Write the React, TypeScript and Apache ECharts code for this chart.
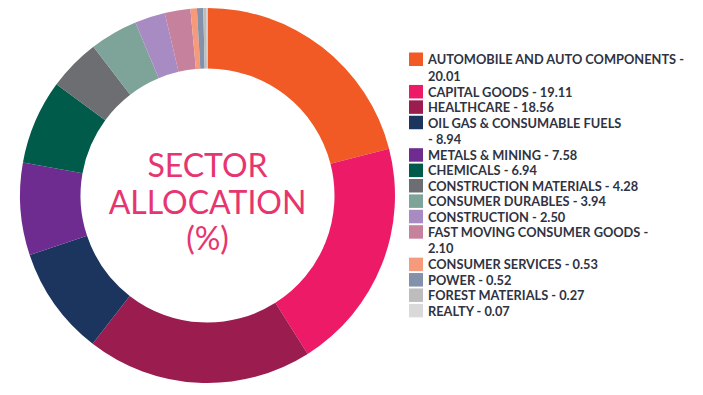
import React, { useEffect, useRef } from 'react';
import * as echarts from 'echarts';

const sectors = [
  'AUTOMOBILE AND AUTO COMPONENTS',
  'CAPITAL GOODS',
  'HEALTHCARE',
  'OIL GAS & CONSUMABLE FUELS',
  'METALS & MINING',
  'CHEMICALS',
  'CONSTRUCTION MATERIALS',
  'CONSUMER DURABLES',
  'CONSTRUCTION',
  'FAST MOVING CONSUMER GOODS',
  'CONSUMER SERVICES',
  'POWER',
  'FOREST MATERIALS',
  'REALTY',
];
const allocation = [20.01, 19.11, 18.56, 8.94, 7.58, 6.94, 4.28, 3.94, 2.5, 2.1, 0.53, 0.52, 0.27, 0.07];

// long legend entries that break onto a second line, and where
const legendBreaks: Record<string, 'afterDash' | 'beforeDash'> = {
  'AUTOMOBILE AND AUTO COMPONENTS': 'afterDash',
  'OIL GAS & CONSUMABLE FUELS': 'beforeDash',
  'FAST MOVING CONSUMER GOODS': 'afterDash',
};

const palette = [
  '#f15a24', '#ec1a67', '#9b1c4e', '#1c355e', '#6e2b90', '#005b4a', '#6d6e71',
  '#7ea398', '#a98bc4', '#c6819c', '#f69a7c', '#8391ab', '#bdbdbd', '#d9d9d9',
];

const centerTitle = ['SECTOR', 'ALLOCATION', '(%)'];

const LINE = 16.3;
const legendFont = { fontFamily: 'Lato', fontWeight: 'bold' as const, fontSize: 12.8, color: '#2f3342' };

export default function App() {
  const ref = useRef<HTMLDivElement>(null);
  useEffect(() => {
    if (!ref.current) return;
    const chart = echarts.init(ref.current, undefined, { renderer: 'svg' });
    const legendData = sectors.map((name) => {
      if (!legendBreaks[name]) return { name };
      return {
        name,
        textStyle: {
          padding: [LINE, 0, 0, 0],
          rich: {
            t: { ...legendFont, lineHeight: LINE },
            s: { fontFamily: 'Lato', fontSize: 14.5, lineHeight: LINE },
          },
        },
      };
    });
    chart.setOption({
      animation: false,
      backgroundColor: '#ffffff',
      textStyle: { fontFamily: 'Lato' },
      legend: {
        orient: 'vertical',
        left: 409,
        top: 52.5,
        padding: 0,
        itemWidth: 14,
        itemHeight: 13.5,
        itemGap: 1.9,
        icon: 'rect',
        selectedMode: false,
        textStyle: legendFont,
        data: legendData,
        formatter: (name: string) => {
          const v = allocation[sectors.indexOf(name)].toFixed(2);
          const brk = legendBreaks[name];
          if (!brk) return `${name} - ${v}`;
          if (brk === 'afterDash') return `{t|${name} -}\n{t|${v}}{s| }`;
          return `{t|${name}}\n{t|- ${v}}{s| }`;
        },
      },
      graphic: [
        {
          type: 'text',
          x: 207.5,
          y: 201,
          silent: true,
          style: {
            text: centerTitle.join('\n'),
            align: 'center',
            verticalAlign: 'middle',
            fontFamily: 'Lato',
            fontSize: 32,
            lineHeight: 36.5,
            fill: '#e6356f',
          },
        },
      ],
      series: [
        {
          type: 'pie',
          center: [207.5, 195.5],
          radius: [127, 187.5],
          startAngle: 90,
          clockwise: true,
          silent: true,
          avoidLabelOverlap: false,
          label: { show: false },
          labelLine: { show: false },
          emphasis: { disabled: true },
          itemStyle: { borderWidth: 0 },
          data: sectors.map((name, i) => ({
            name,
            value: allocation[i],
            itemStyle: { color: palette[i] },
          })),
        },
      ],
    });
    return () => chart.dispose();
  }, []);
  return (
    <div
      ref={ref}
      style={{ position: 'fixed', left: 0, top: 0, width: 703, height: 395 }}
    />
  );
}
